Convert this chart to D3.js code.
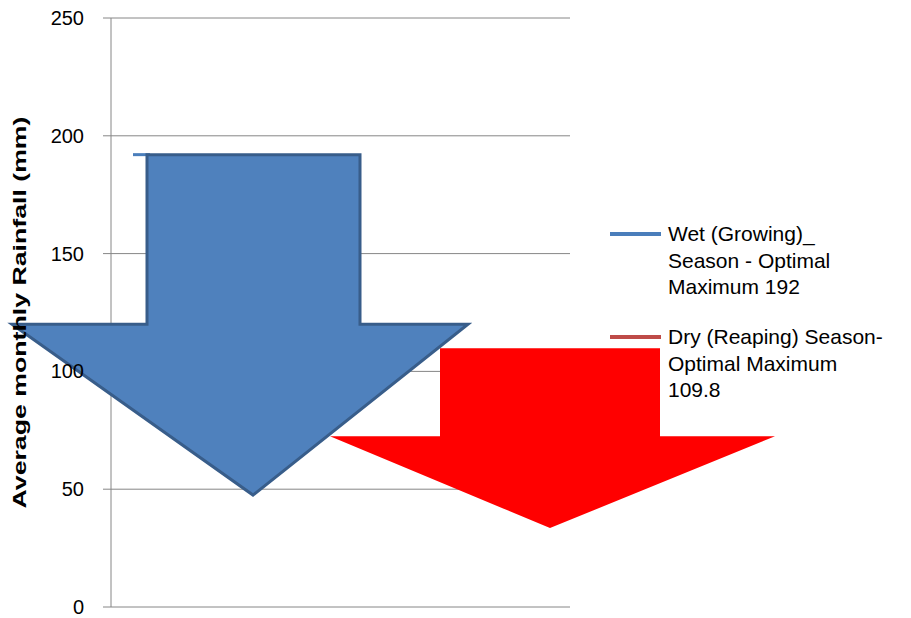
<!DOCTYPE html>
<html><head><meta charset="utf-8">
<script src="https://cdn.jsdelivr.net/npm/d3@7"></script>
<style>body{margin:0;background:#fff;font-family:"Liberation Sans",Arial,sans-serif}</style>
</head><body><svg id="chart"></svg>
<script>
// data
var seriesNames = ["Wet (Growing)_ Season - Optimal Maximum 192", "Dry (Reaping) Season- Optimal Maximum 109.8"];
var seriesValues = [192, 109.8];
var seriesColors = ["#4a7ebb", "#be4b48"];
var yTicks = [0, 50, 100, 150, 200, 250];
var yLabel = "Average monthly Rainfall (mm)";

var width = 911, height = 618;
var svg = d3.select("#chart").attr("width", width).attr("height", height);

var y = d3.scaleLinear().domain([0, 250]).range([607, 18]);
var plotLeft = 111, plotRight = 570;

// grid lines
svg.append("g").selectAll("line").data(yTicks).enter().append("line")
	.attr("x1", plotLeft - 8).attr("x2", plotRight)
	.attr("y1", function(d) { return y(d); }).attr("y2", function(d) { return y(d); })
	.attr("stroke", "#868686").attr("stroke-width", 1);
svg.append("line").attr("x1", plotLeft).attr("x2", plotLeft)
	.attr("y1", y(250)).attr("y2", y(0)).attr("stroke", "#868686");

// arrow helper: shaft from top value down to shoulder, head to tip
function arrow(x0, x1, hx0, hx1, tipX, top, shoulder, tip) {
	return [[x0, y(top)], [x1, y(top)], [x1, y(shoulder)], [hx1, y(shoulder)],
		[tipX, y(tip)], [hx0, y(shoulder)], [x0, y(shoulder)]];
}
var line = d3.line();

// red arrow (dry season)
svg.append("path")
	.attr("d", line(arrow(440, 660, 330, 775, 550, seriesValues[1], 72.5, 33.5)) + "Z")
	.attr("fill", "#ff0000");

// blue series stub line
svg.append("line").attr("x1", 133).attr("x2", 150)
	.attr("y1", y(seriesValues[0])).attr("y2", y(seriesValues[0]))
	.attr("stroke", seriesColors[0]).attr("stroke-width", 3);

// blue arrow (wet season)
svg.append("path")
	.attr("d", line(arrow(147, 360, 12, 468, 253, seriesValues[0], 120, 47.5)) + "Z")
	.attr("fill", "#4f81bd").attr("stroke", "#385d8a").attr("stroke-width", 3)
	.attr("stroke-linejoin", "miter");

// tick labels
svg.append("g").selectAll("text").data(yTicks).enter().append("text")
	.attr("x", plotLeft - 27).attr("y", function(d) { return y(d); })
	.attr("dy", "0.35em").attr("text-anchor", "end")
	.attr("font-size", 20).attr("fill", "#000")
	.text(function(d) { return d; });

svg.append("text")
	.attr("transform", "translate(26," + y(125) + ") rotate(-90)")
	.attr("text-anchor", "middle").attr("font-size", 19).attr("font-weight", "bold")
	.attr("textLength", 392).attr("lengthAdjust", "spacingAndGlyphs")
	.text(yLabel);

// legend
var legendLines = [["Wet (Growing)_", "Season - Optimal", "Maximum 192"],
	["Dry (Reaping) Season-", "Optimal Maximum", "109.8"]];
var legendY = [234, 337];
legendLines.forEach(function(lines, i) {
	svg.append("line").attr("x1", 610).attr("x2", 661)
		.attr("y1", legendY[i]).attr("y2", legendY[i])
		.attr("stroke", seriesColors[i]).attr("stroke-width", 4);
	svg.append("text").attr("x", 668).attr("y", legendY[i]).attr("font-size", 21)
		.selectAll("tspan").data(lines).enter().append("tspan")
		.attr("x", 668).attr("dy", function(d, j) { return j === 0 ? "0.35em" : "1.25em"; })
		.text(function(d) { return d; });
});
</script></body></html>
